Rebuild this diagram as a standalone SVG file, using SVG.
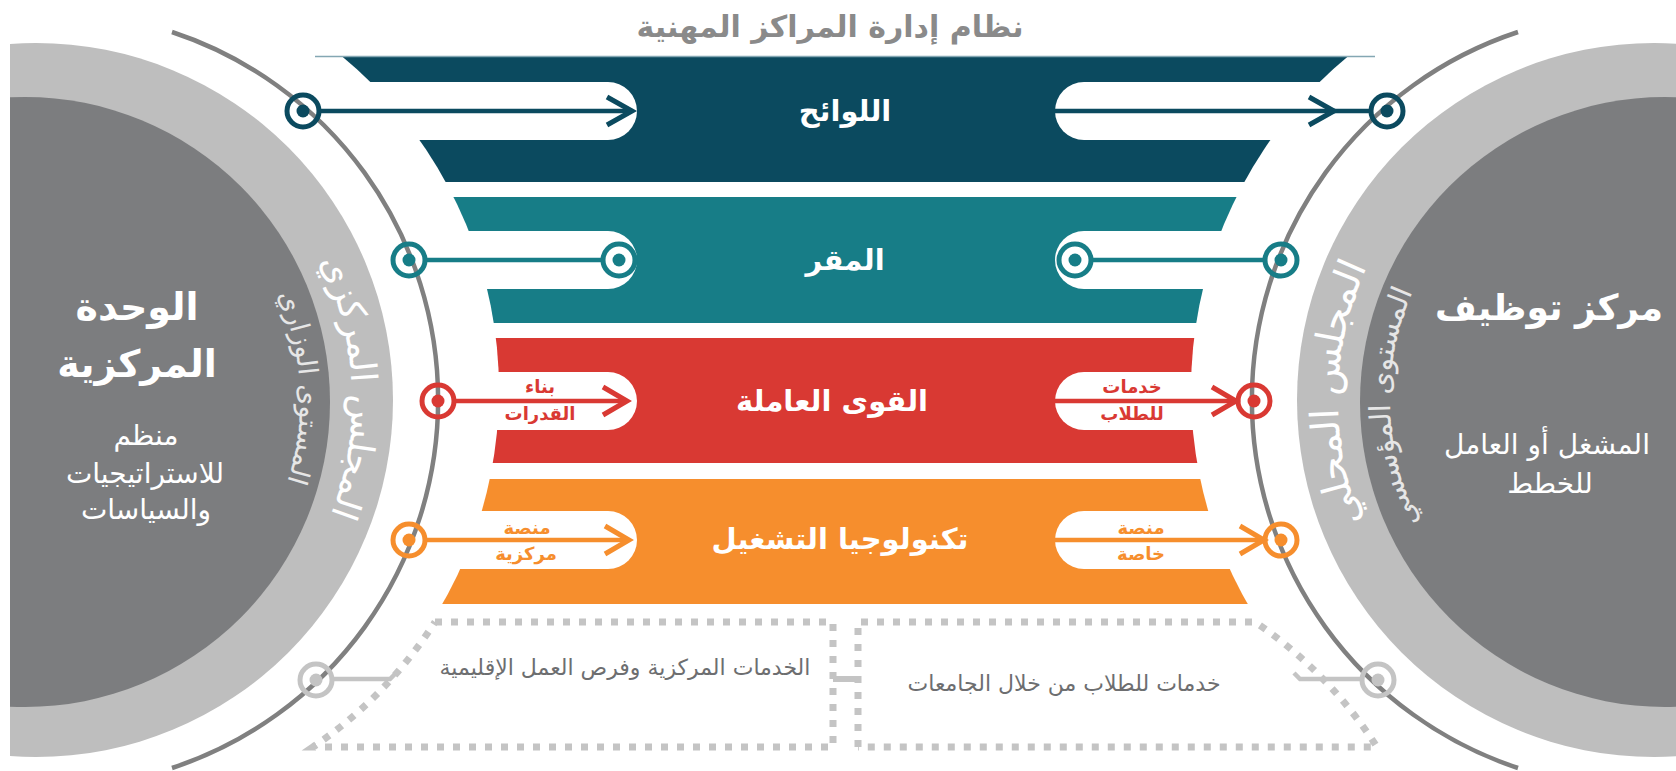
<svg xmlns="http://www.w3.org/2000/svg" xmlns:xlink="http://www.w3.org/1999/xlink" width="1676" height="771" viewBox="0 0 1676 771">
  <style>
    text { font-family: "DejaVu Sans", "Noto Sans", sans-serif; }
    .ttl { font-size: 30px; font-weight: bold; fill: #8a8a8a; text-anchor: middle; }
    .band-label { font-size: 29px; font-weight: bold; fill: #ffffff; text-anchor: middle; }
    .big { font-size: 38px; font-weight: bold; fill: #ffffff; text-anchor: middle; }
    .sub { font-size: 28px; fill: #ffffff; text-anchor: middle; }
    .ring-big { font-size: 36px; fill: #ffffff; }
    .ring-small { font-size: 27px; fill: #e6e6e6; }
    .lbl { font-size: 18px; font-weight: bold; text-anchor: middle; }
    .btm { font-size: 22px; fill: #6d6e70; text-anchor: middle; }
    .ring { fill: none; stroke-width: 5; }
    .conn { fill: none; stroke-width: 4.5; }
    .chev { fill: none; stroke-width: 5; stroke-linejoin: miter; }
    .dots { fill: none; stroke: #c4c4c4; stroke-width: 7; stroke-dasharray: 7 9; }
  </style>
  <defs>
    <clipPath id="leftClip"><rect x="10" y="0" width="830" height="771"/></clipPath>
    <mask id="bandMask" maskUnits="userSpaceOnUse" x="0" y="0" width="1676" height="771">
      <rect x="0" y="0" width="1676" height="771" fill="#fff"/>
      <circle cx="66" cy="390" r="433" fill="#000"/>
      <circle cx="1624" cy="390" r="433" fill="#000"/>
      <rect x="-200" y="82" width="837" height="58" rx="29" fill="#000"/>
      <rect x="1055" y="82" width="900" height="58" rx="29" fill="#000"/>
      <rect x="-200" y="231" width="837" height="58" rx="29" fill="#000"/>
      <rect x="1055" y="231" width="900" height="58" rx="29" fill="#000"/>
      <rect x="-200" y="372" width="837" height="58" rx="29" fill="#000"/>
      <rect x="1055" y="372" width="900" height="58" rx="29" fill="#000"/>
      <rect x="-200" y="511" width="837" height="58" rx="29" fill="#000"/>
      <rect x="1055" y="511" width="900" height="58" rx="29" fill="#000"/>
    </mask>
    <path id="pLeftBig" d="M 85.9 82.9 A 322 322 0 0 1 85.9 717.1"/>
    <path id="pLeftSmall" d="M 76.9 134.1 A 270 270 0 0 1 76.9 665.9"/>
    <path id="pRightBig" d="M 1604.1 717.1 A 322 322 0 0 1 1604.1 82.9"/>
    <path id="pRightSmall" d="M 1613.1 665.9 A 270 270 0 0 1 1613.1 134.1"/>
  </defs>

  <rect x="0" y="0" width="1676" height="771" fill="#ffffff"/>

  <!-- left node: central unit -->
  <g id="central-unit">
    <g clip-path="url(#leftClip)">
      <circle cx="36" cy="400" r="357" fill="#bebebe"/>
      <circle cx="25" cy="402" r="305" fill="#7c7d7f"/>
    </g>
    <text class="big" x="137" y="320">الوحدة</text>
    <text class="big" x="137" y="377">المركزية</text>
    <text class="sub" x="146" y="445">منظم</text>
    <text class="sub" x="145" y="483">للاستراتيجيات</text>
    <text class="sub" x="146" y="519">والسياسات</text>
    <text class="ring-big"><textPath xlink:href="#pLeftBig" startOffset="436" text-anchor="middle">المجلس المركزي</textPath></text>
    <text class="ring-small"><textPath xlink:href="#pLeftSmall" startOffset="364" text-anchor="middle">المستوى الوزاري</textPath></text>
  </g>

  <!-- right node: employment center -->
  <g id="employment-center">
    <circle cx="1654" cy="400" r="357" fill="#bebebe"/>
    <circle cx="1665" cy="402" r="305" fill="#7c7d7f"/>
    <text class="big" x="1549" y="320" style="font-size:36px">مركز توظيف</text>
    <text class="sub" x="1547" y="454">المشغل أو العامل</text>
    <text class="sub" x="1550" y="493">للخطط</text>
    <text class="ring-big" style="font-size:39px"><textPath xlink:href="#pRightBig" startOffset="456" text-anchor="middle">المجلس المحلي</textPath></text>
    <text class="ring-small" style="font-size:29px"><textPath xlink:href="#pRightSmall" startOffset="369" text-anchor="middle">المستوى المؤسسي</textPath></text>
  </g>

  <!-- title -->
  <g id="title">
    <text class="ttl" x="830" y="37">نظام إدارة المراكز المهنية</text>
  </g>

  <!-- bands -->
  <g id="bands" mask="url(#bandMask)">
    <rect id="band-regulations" x="0" y="56" width="1676" height="126" fill="#0b4a5f"/>
    <rect id="band-headquarters" x="0" y="197" width="1676" height="126" fill="#177d87"/>
    <rect id="band-workforce" x="0" y="338" width="1676" height="125" fill="#d93933"/>
    <rect id="band-technology" x="0" y="479" width="1676" height="125" fill="#f68e2d"/>
  </g>
  <line x1="315" y1="56.5" x2="1375" y2="56.5" stroke="#84a7b3" stroke-width="1.5"/>

  <g id="band-labels">
    <text class="band-label" x="845" y="121">اللوائح</text>
    <text class="band-label" x="845" y="270">المقر</text>
    <text class="band-label" x="832" y="411">القوى العاملة</text>
    <text class="band-label" x="840" y="549">تكنولوجيا التشغيل</text>
  </g>

  <!-- bottom boxes -->
  <g id="box-central-services">
    <path class="dots" d="M 435 622 H 833 V 747 H 313 A 435 435 0 0 0 435 622"/>
    <text class="btm" x="625" y="675">الخدمات المركزية وفرص العمل الإقليمية</text>
  </g>
  <g id="box-university-services">
    <path class="dots" d="M 858 747 V 622 H 1255 A 435 435 0 0 1 1377 747 H 858"/>
    <text class="btm" x="1064" y="691">خدمات للطلاب من خلال الجامعات</text>
  </g>

  <!-- connectors -->
  <g id="connectors">
    <path d="M 172 32 A 387.5 387.5 0 0 1 172 768" fill="none" stroke="#808080" stroke-width="4.5"/>
    <path d="M 1518 32 A 387.5 387.5 0 0 0 1518 768" fill="none" stroke="#808080" stroke-width="4.5"/>

    <!-- regulations -->
    <g stroke="#0b4a5f">
      <line class="conn" x1="321" y1="111" x2="632" y2="111"/>
      <polyline class="chev" points="607,97 632,111 607,125"/>
      <circle class="ring" cx="303" cy="111" r="16"/>
      <line class="conn" x1="1055" y1="111" x2="1369" y2="111"/>
      <polyline class="chev" points="1309,97 1334,111 1309,125"/>
      <circle class="ring" cx="1387" cy="111" r="16"/>
    </g>
    <circle cx="303" cy="111" r="6.5" fill="#0b4a5f"/>
    <circle cx="1387" cy="111" r="6.5" fill="#0b4a5f"/>

    <!-- headquarters -->
    <g stroke="#177d87">
      <line class="conn" x1="427" y1="260" x2="602" y2="260"/>
      <circle class="ring" cx="409" cy="260" r="16"/>
      <circle class="ring" cx="619" cy="260" r="16"/>
      <line class="conn" x1="1092" y1="260" x2="1263" y2="260"/>
      <circle class="ring" cx="1075" cy="260" r="16"/>
      <circle class="ring" cx="1281" cy="260" r="16"/>
    </g>
    <g fill="#177d87">
      <circle cx="409" cy="260" r="6.5"/>
      <circle cx="619" cy="260" r="6.5"/>
      <circle cx="1075" cy="260" r="6.5"/>
      <circle cx="1281" cy="260" r="6.5"/>
    </g>

    <!-- workforce -->
    <g stroke="#d93933">
      <line class="conn" x1="456" y1="401" x2="627" y2="401"/>
      <polyline class="chev" points="603,387 627,401 603,415"/>
      <circle class="ring" cx="438" cy="401" r="16"/>
      <line class="conn" x1="1055" y1="401" x2="1236" y2="401"/>
      <polyline class="chev" points="1212,387 1236,401 1212,415"/>
      <circle class="ring" cx="1254" cy="401" r="16"/>
    </g>
    <circle cx="438" cy="401" r="6.5" fill="#d93933"/>
    <circle cx="1254" cy="401" r="6.5" fill="#d93933"/>

    <!-- technology -->
    <g stroke="#f68e2d">
      <line class="conn" x1="427" y1="540" x2="629" y2="540"/>
      <polyline class="chev" points="605,526 629,540 605,554"/>
      <circle class="ring" cx="409" cy="540" r="16"/>
      <line class="conn" x1="1055" y1="540" x2="1263" y2="540"/>
      <polyline class="chev" points="1240,526 1264,540 1240,554"/>
      <circle class="ring" cx="1281" cy="540" r="16"/>
    </g>
    <circle cx="409" cy="540" r="6.5" fill="#f68e2d"/>
    <circle cx="1281" cy="540" r="6.5" fill="#f68e2d"/>

    <!-- bottom -->
    <g stroke="#c4c4c4">
      <polyline class="conn" points="334,679 390,679 396,673"/>
      <circle class="ring" cx="316" cy="680" r="16"/>
      <polyline class="conn" points="1360,679 1300,679 1294,673"/>
      <circle class="ring" cx="1378" cy="680" r="16"/>
      <line x1="833" y1="679" x2="858" y2="679" stroke-width="6"/>
    </g>
    <circle cx="316" cy="680" r="6.5" fill="#c4c4c4"/>
    <circle cx="1378" cy="680" r="6.5" fill="#c4c4c4"/>
  </g>

  <!-- arrow labels -->
  <g id="arrow-labels">
    <text class="lbl" fill="#d93933" x="540" y="393">بناء</text>
    <text class="lbl" fill="#d93933" x="540" y="420">القدرات</text>
    <text class="lbl" fill="#d93933" x="1132" y="393">خدمات</text>
    <text class="lbl" fill="#d93933" x="1132" y="420">للطلاب</text>
    <text class="lbl" fill="#f68e2d" x="527" y="534">منصة</text>
    <text class="lbl" fill="#f68e2d" x="526" y="560">مركزية</text>
    <text class="lbl" fill="#f68e2d" x="1141" y="534">منصة</text>
    <text class="lbl" fill="#f68e2d" x="1141" y="560">خاصة</text>
  </g>
</svg>
